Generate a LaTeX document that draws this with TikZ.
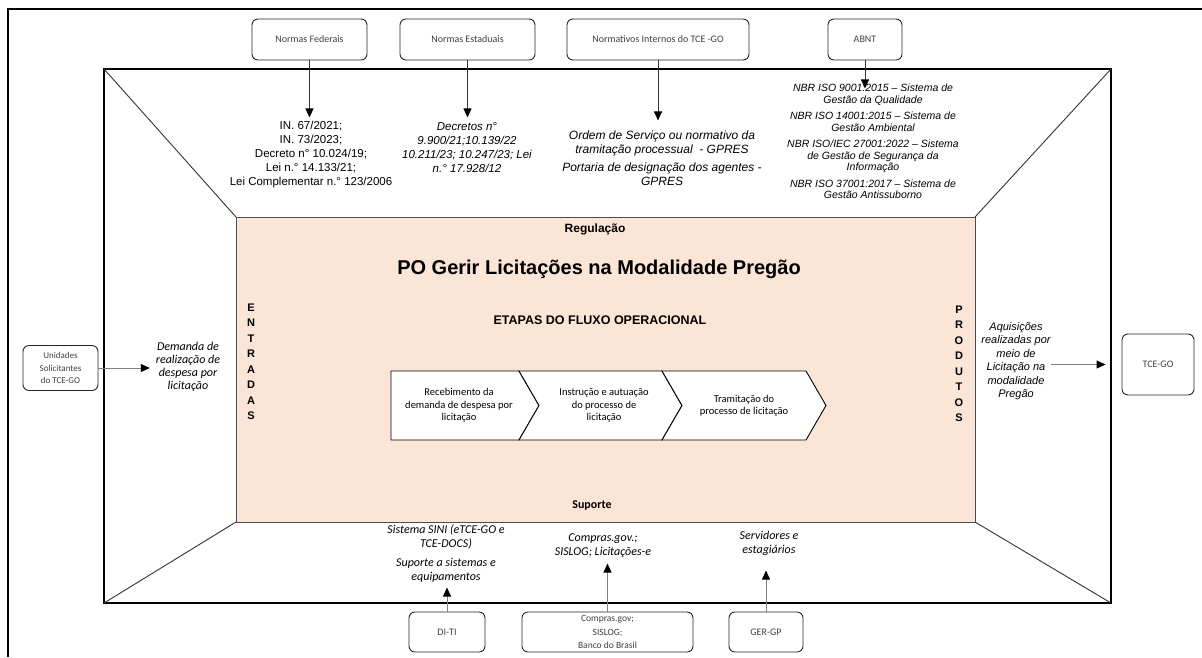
\documentclass[tikz,border=0pt]{standalone}
\usepackage{fontspec}
\setmainfont{Liberation Sans}
\newfontfamily\calibfont{Carlito}
\usetikzlibrary{arrows.meta,positioning}
\definecolor{processpeach}{HTML}{FBE5D6}
\definecolor{boxtext}{HTML}{404040}
\definecolor{linkgray}{HTML}{808080}

\tikzset{
    srcbox/.style={draw=black!85, line width=0.9pt, rounded corners=6pt, fill=white, text=boxtext, align=center, inner sep=1pt, font=\calibfont\fontsize{10}{12}\selectfont},
    normtext/.style={align=center, inner sep=0pt, font=\fontsize{11.5}{14}\selectfont},
    isotext/.style={align=center, inner sep=0pt, font=\itshape\fontsize{10.5}{11.5}\selectfont},
    suptext/.style={align=center, inner sep=0pt, font=\calibfont\itshape\fontsize{12}{14}\selectfont},
    sidetext/.style={align=center, inner sep=0pt, font=\bfseries\fontsize{11}{15.5}\selectfont},
    stagetext/.style={align=center, inner sep=0pt, font=\calibfont\fontsize{10.5}{12.5}\selectfont},
    linkarrow/.style={draw=linkgray, line width=0.9pt, -{Triangle[length=9pt,width=8pt,color=black]}},
    downarrow/.style={draw=black!80, line width=0.8pt, -{Triangle[length=9pt,width=8pt,color=black]}},
}

\begin{document}
\begin{tikzpicture}[x=1pt,y=-1pt]
    \useasboundingbox (0,0) rectangle (1202,657);

    % Outer frame
    \draw[line width=2pt] (8,657) -- (8,9) -- (1202,9);

    % Context box with perspective lines
    \draw[line width=2.4pt] (104,69) rectangle (1111,603);
    \draw[black!80, line width=0.9pt] (104,69) -- (236,217);
    \draw[black!80, line width=0.9pt] (1111,69) -- (975,217);
    \draw[black!80, line width=0.9pt] (104,603) -- (236,522);
    \draw[black!80, line width=0.9pt] (1111,603) -- (975,522);

    % Process area
    \fill[processpeach] (236,217) rectangle (975,522);
    \draw[black!70, line width=0.9pt] (236,217) rectangle (975,522);

    % Regulation sources
    \node[srcbox, minimum width=115, minimum height=41] (fed) at (309.5,39.5) {Normas Federais};
    \node[srcbox, minimum width=135, minimum height=41] (est) at (467.5,39.5) {Normas Estaduais};
    \node[srcbox, minimum width=182, minimum height=41] (int) at (658,39.5) {Normativos Internos do TCE -GO};
    \node[srcbox, minimum width=74, minimum height=41] (abnt) at (865,39.5) {ABNT};

    \node[normtext] (fedtxt) at (311,155) {IN. 67/2021;\\IN. 73/2023;\\Decreto n° 10.024/19;\\Lei n.° 14.133/21;\\Lei Complementar n.° 123/2006};
    \node[normtext, font=\itshape\fontsize{11.5}{14}\selectfont] (esttxt) at (467,148) {Decretos n°\\9.900/21;10.139/22\\10.211/23; 10.247/23; Lei\\n.° 17.928/12};
    \node[normtext, font=\itshape\fontsize{12}{14}\selectfont] (inttxt) at (662,158) {Ordem de Serviço ou normativo da\\tramitação processual \ - GPRES\\[4pt]Portaria de designação dos agentes -\\GPRES};
    \node[isotext] (isotxt) at (873,141.5) {NBR ISO 9001:2015 – Sistema de\\Gestão da Qualidade\\[5pt]NBR ISO 14001:2015 – Sistema de\\Gestão Ambiental\\[5pt]NBR ISO/IEC 27001:2022 – Sistema\\de Gestão de Segurança da\\Informação\\[5pt]NBR ISO 37001:2017 – Sistema de\\Gestão Antissuborno};

    \draw[downarrow] (fed.south) -- ++(0,57);
    \draw[downarrow] (est.south) -- ++(0,57);
    \draw[downarrow] (int.south) -- ++(0,60);
    \draw[downarrow] (abnt.south) -- ++(0,28);

    % Process title and stages
    \node[font=\bfseries\fontsize{12}{14}\selectfont] (reg) at (595,229) {Regulação};
    \node[font=\bfseries\fontsize{20}{22}\selectfont] (title) at (599,269) {PO Gerir Licitações na Modalidade Pregão};
    \node[font=\bfseries\fontsize{12.5}{14}\selectfont] (etapas) at (600,320) {ETAPAS DO FLUXO OPERACIONAL};
    \node[sidetext] (ent) at (251,362) {E\\N\\T\\R\\A\\D\\A\\S};
    \node[sidetext] (prod) at (959,364) {P\\R\\O\\D\\U\\T\\O\\S};

    \draw[line width=0.9pt, fill=white] (391,371) -- (519,371) -- (539,405.5) -- (519,440) -- (391,440) -- cycle;
    \foreach \a/\b in {519/662, 662/806} {
        \draw[line width=0.9pt, fill=white] (\a,371) -- (\b,371) -- (\b+20,405.5) -- (\b,440) -- (\a,440) -- (\a+20,405.5) -- cycle;
    }
    \node[stagetext] (st1) at (459,405.5) {Recebimento da\\demanda de despesa por\\licitação};
    \node[stagetext] (st2) at (604,405.5) {Instrução e autuação\\do processo de\\licitação};
    \node[stagetext] (st3) at (744,405.5) {Tramitação do\\processo de licitação};

    \node[font=\calibfont\bfseries\fontsize{12}{14}\selectfont] (sup) at (592,505) {Suporte};

    % Inputs
    \node[srcbox, minimum width=75, minimum height=45, font=\calibfont\fontsize{9}{12.5}\selectfont] (uni) at (60.5,368) {Unidades\\Solicitantes\\do TCE-GO};
    \node[suptext, font=\calibfont\itshape\fontsize{12}{13}\selectfont] (demtxt) at (188,367) {Demanda de\\realização de\\despesa por\\licitação};
    \draw[linkarrow, shorten >=6pt] (uni.east) -- (uni.east -| demtxt.west);

    % Outputs
    \node[font=\itshape\fontsize{11}{13.5}\selectfont, align=center, inner sep=0pt] (prodtxt) at (1016,361) {Aquisições\\realizadas por\\meio de\\Licitação na\\modalidade\\Pregão};
    \node[srcbox, minimum width=72, minimum height=61] (tce) at (1158,364.5) {TCE-GO};
    \draw[linkarrow, shorten >=16pt] (prodtxt.east |- tce.west) -- (tce.west);

    % Support
    \node[suptext] (sinitxt) at (446,553.5) {Sistema SINI (eTCE-GO e\\TCE-DOCS)\\[5pt]Suporte a sistemas e\\equipamentos};
    \node[suptext] (comptxt) at (603,546) {Compras.gov.;\\SISLOG; Licitações-e};
    \node[suptext] (servtxt) at (769,543) {Servidores e\\estagiários};

    \node[srcbox, minimum width=76, minimum height=40] (diti) at (447,632) {DI-TI};
    \node[srcbox, minimum width=171, minimum height=40, font=\calibfont\fontsize{9.5}{13.5}\selectfont] (compbox) at (607.5,632) {Compras.gov;\\SISLOG;\\Banco do Brasil};
    \node[srcbox, minimum width=74, minimum height=40] (gergp) at (766,632) {GER-GP};

    \draw[linkarrow] (diti.north) -- ++(0,-24);
    \draw[linkarrow] (compbox.north) -- ++(0,-48);
    \draw[linkarrow] (gergp.north) -- ++(0,-41);
\end{tikzpicture}
\end{document}
